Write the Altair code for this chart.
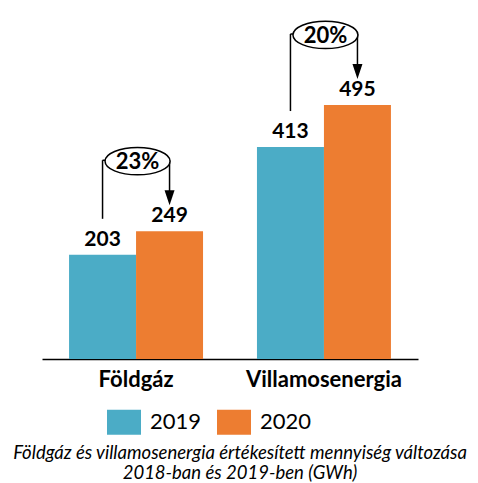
import altair as alt
import pandas as pd

categories = ["Földgáz", "Villamosenergia"]
years = ["2019", "2020"]
values_2019 = [203, 413]
values_2020 = [249, 495]
changes = ["23%", "20%"]
title_lines = ["Földgáz és villamosenergia értékesített mennyiség változása",
               "2018-ban és 2019-ben (GWh)"]

TEAL = "#4BACC6"
ORANGE = "#ED7D31"
FONT = "Lato"

long_rows = []
for c, a, b in zip(categories, values_2019, values_2020):
    long_rows.append({"cat": c, "year": years[0], "value": a})
    long_rows.append({"cat": c, "year": years[1], "value": b})
long_df = pd.DataFrame(long_rows)
wide_df = pd.DataFrame({"cat": categories, "v2019": values_2019,
                        "v2020": values_2020, "chg": changes})

xenc = alt.X("cat:N", sort=categories,
             scale=alt.Scale(paddingInner=0.287, paddingOuter=0.144),
             axis=alt.Axis(title=None, labelAngle=0, ticks=False, grid=False,
                           domainColor="black", domainWidth=1.5,
                           labelFont=FONT, labelFontSize=22, labelFontWeight="bold",
                           labelColor="black", labelPadding=10))
yscale = alt.Scale(domain=[0, 680])

base_long = alt.Chart(long_df)
bars = base_long.mark_bar().encode(
    x=xenc,
    xOffset=alt.XOffset("year:N", sort=years, scale=alt.Scale(paddingInner=0, paddingOuter=0)),
    y=alt.Y("value:Q", scale=yscale, axis=None),
    color=alt.Color("year:N", sort=years,
                    scale=alt.Scale(domain=years, range=[TEAL, ORANGE]),
                    legend=alt.Legend(orient="none", legendX=65, legendY=395,
                                      direction="horizontal", title=None,
                                      symbolType="M-1,-0.735L1,-0.735L1,0.735L-1,0.735Z",
                                      symbolSize=1156, symbolStrokeWidth=0,
                                      symbolOpacity=1,
                                      labelFont=FONT, labelFontSize=22,
                                      labelColor="black", labelOffset=9,
                                      columnPadding=15, padding=0)),
)
labels = base_long.mark_text(font=FONT, fontSize=21, fontWeight="bold",
                             baseline="alphabetic", dy=-9, color="black").encode(
    x=alt.X("cat:N", sort=categories),
    xOffset=alt.XOffset("year:N", sort=years),
    y=alt.Y("value:Q", scale=yscale),
    text="value:Q",
)

base_w = alt.Chart(wide_df)
LW = 1.5
connector = base_w.mark_tick(size=67, thickness=LW, color="black", opacity=1,
                             yOffset=-71).encode(
    x=alt.X("cat:N", sort=categories), y=alt.Y("v2020:Q", scale=yscale))
ellipse_path = ("M-1,0 C-1,-0.232 -0.552,-0.42 0,-0.42 C0.552,-0.42 1,-0.232 1,0 "
                "C1,0.232 0.552,0.42 0,0.42 C-0.552,0.42 -1,0.232 -1,0 Z")
ellipse = base_w.mark_point(shape=ellipse_path, size=4225, filled=True,
                            color="white", stroke="black", strokeWidth=LW,
                            opacity=1, xOffset=1.5, yOffset=-70).encode(
    x=alt.X("cat:N", sort=categories), y=alt.Y("v2020:Q", scale=yscale))
pct = base_w.mark_text(font=FONT, fontSize=22, fontWeight="bold", color="black",
                       baseline="middle", dx=1.5, dy=-69).encode(
    x=alt.X("cat:N", sort=categories), y=alt.Y("v2020:Q", scale=yscale), text="chg:N")
left_line = base_w.mark_rule(color="black", strokeWidth=LW, xOffset=-33.5,
                             yOffset=-36, y2Offset=-71).encode(
    x=alt.X("cat:N", sort=categories), y=alt.Y("v2019:Q", scale=yscale), y2="v2020:Q")
right_line = base_w.mark_rule(color="black", strokeWidth=LW, xOffset=33.5,
                              yOffset=-71, y2Offset=-38).encode(
    x=alt.X("cat:N", sort=categories), y=alt.Y("v2020:Q", scale=yscale), y2="v2020:Q")
arrow = base_w.mark_point(shape="M-0.5,-0.75L0.5,-0.75L0,0.75Z", size=400, filled=True,
                          color="black", opacity=1, xOffset=33.5, yOffset=-33.5).encode(
    x=alt.X("cat:N", sort=categories), y=alt.Y("v2020:Q", scale=yscale))

chart = alt.layer(bars, labels, connector, left_line, right_line, arrow, ellipse, pct).properties(
    width=376, height=349,
    autosize=alt.AutoSizeParams(type="none"),
    padding={"left": 34, "top": 2, "right": 52, "bottom": 125},
    title=alt.TitleParams(text=title_lines, orient="bottom", anchor="middle",
                          font=FONT, fontStyle="italic", fontWeight="normal",
                          fontSize=18.5, lineHeight=20, offset=9, dx=10,
                          color="black"),
).configure_view(stroke=None)

chart.save("out.html", embed_options={"renderer": "svg", "actions": False})
